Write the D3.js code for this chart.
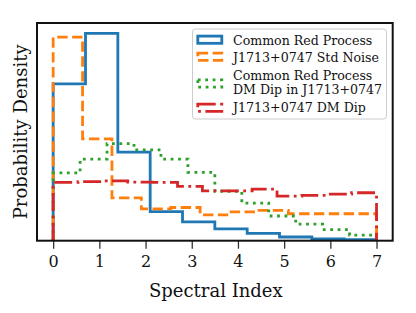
<!DOCTYPE html>
<html>
<head>
<meta charset="utf-8">
<script src="https://cdn.jsdelivr.net/npm/d3@7"></script>
<style>
  body { margin: 0; background: #fff; }
  svg { display: block; font-family: "DejaVu Serif", serif; }
</style>
</head>
<body>
<div id="chart"></div>
<script>
// histogram densities, bins evenly spread over [0, 7]
var commonRed   = [0.425, 0.562, 0.240, 0.079, 0.051, 0.032, 0.020, 0.010, 0.005, 0.003];
var stdNoise    = [0.552, 0.276, 0.116, 0.086, 0.090, 0.070, 0.078, 0.082, 0.073, 0.073, 0.073];
var commonDip   = [0.184, 0.221, 0.263, 0.246, 0.221, 0.185, 0.134, 0.102, 0.067, 0.045, 0.030, 0.015];
var dmDip       = [0.158, 0.160, 0.162, 0.159, 0.158, 0.147, 0.135, 0.135, 0.140, 0.121, 0.123, 0.126, 0.130];
var xTicks = [0, 1, 2, 3, 4, 5, 6, 7];
var legendLabels = [
  ["Common Red Process"],
  ["J1713+0747 Std Noise"],
  ["Common Red Process", "DM Dip in J1713+0747"],
  ["J1713+0747 DM Dip"]
];

(function(){
  var W = 416, H = 313;
  var pl = 37, pr = 392.7, pt = 23, pb = 240.7;
  var LW = 2.8;

  var series = [
    {v: commonRed, color: "#1f77b4", dash: null},
    {v: stdNoise,  color: "#ff7f0e", dash: [3.7*LW, 1.6*LW]},
    {v: commonDip, color: "#2ca02c", dash: [1*LW, 1.65*LW]},
    {v: dmDip,     color: "#d62728", dash: [6.4*LW, 1.6*LW, 1*LW, 1.6*LW]}
  ];

  var ymax = d3.max(series, function(s){ return d3.max(s.v); }) * 1.05;

  var x = d3.scaleLinear().domain([-0.35, 7.35]).range([pl, pr]);
  var y = d3.scaleLinear().domain([0, ymax]).range([pb, pt]);

  var svg = d3.select("#chart").append("svg")
    .attr("width", W).attr("height", H);

  // step outline of one histogram
  function stepPoints(vals){
    var n = vals.length, pts = [[0, 0]];
    for (var i = 0; i < n; i++){
      pts.push([7 * i / n, vals[i]]);
      pts.push([7 * (i + 1) / n, vals[i]]);
    }
    pts.push([7, 0]);
    return pts;
  }

  var line = d3.line()
    .x(function(d){ return x(d[0]); })
    .y(function(d){ return y(d[1]); });

  svg.selectAll("path.hist")
    .data(series)
    .enter()
    .append("path")
    .attr("class", "hist")
    .attr("d", function(s){ return line(stepPoints(s.v)); })
    .attr("fill", "none")
    .attr("stroke", function(s){ return s.color; })
    .attr("stroke-width", LW)
    .attr("stroke-dasharray", function(s){ return s.dash ? s.dash.join(",") : null; });

  // x axis
  var xAxis = d3.axisBottom(x).tickValues(xTicks).tickSize(8).tickPadding(7).tickFormat(d3.format("d"));
  var gx = svg.append("g").attr("transform", "translate(0," + pb + ")").call(xAxis);
  gx.select(".domain").remove();
  gx.selectAll(".tick line").attr("stroke", "#333").attr("stroke-width", 1.3);
  gx.selectAll(".tick text")
    .attr("fill", "#111")
    .style("font-family", "DejaVu Serif")
    .style("font-size", "16px");

  // frame
  svg.append("rect")
    .attr("x", pl).attr("y", pt)
    .attr("width", pr - pl).attr("height", pb - pt)
    .attr("fill", "none")
    .attr("stroke", "#111")
    .attr("stroke-width", 2);

  // axis titles
  svg.append("text")
    .attr("x", (pl + pr) / 2 + 1)
    .attr("y", 296.5)
    .attr("text-anchor", "middle")
    .style("font-size", "18px")
    .attr("fill", "#111")
    .text("Spectral Index");

  svg.append("text")
    .attr("transform", "translate(27," + ((pt + pb) / 2) + ") rotate(-90)")
    .attr("text-anchor", "middle")
    .style("font-size", "18px")
    .attr("fill", "#111")
    .text("Probability Density");

  // legend
  var lg = svg.append("g");
  lg.append("rect")
    .attr("x", 192.5).attr("y", 29)
    .attr("width", 194).attr("height", 90)
    .attr("rx", 3)
    .attr("fill", "#fff")
    .attr("fill-opacity", 0.8)
    .attr("stroke", "#ccc")
    .attr("stroke-width", 1);

  var handleY = [39.7, 56.7, 83.5, 107.8];
  var textY = [[44.5], [62], [80, 93.5], [112]];

  series.forEach(function(s, i){
    lg.append("rect")
      .attr("x", 197.8).attr("y", handleY[i] - 3.6)
      .attr("width", 24).attr("height", 7.2)
      .attr("fill", "none")
      .attr("stroke", s.color)
      .attr("stroke-width", LW)
      .attr("stroke-dasharray", s.dash ? s.dash.join(",") : null);
    legendLabels[i].forEach(function(t, j){
      lg.append("text")
        .attr("x", 233).attr("y", textY[i][j])
        .style("font-size", "12.6px")
        .attr("fill", "#111")
        .text(t);
    });
  });
})();
</script>
</body>
</html>
